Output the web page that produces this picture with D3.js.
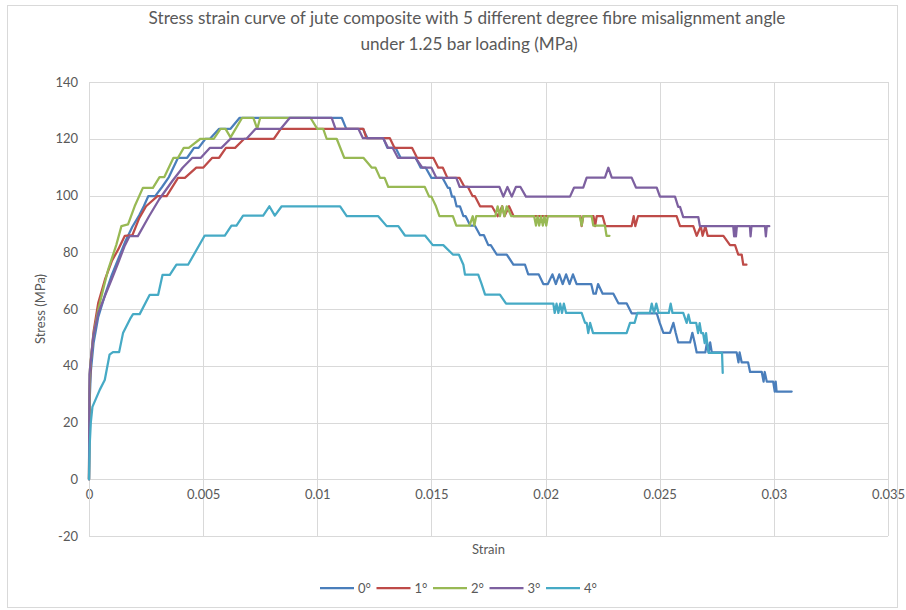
<!DOCTYPE html>
<html>
<head>
<meta charset="utf-8">
<script src="https://cdn.jsdelivr.net/npm/d3@7"></script>
<style>
  html, body { margin: 0; padding: 0; background: #fff; }
  svg { display: block; font-family: Lato, "Open Sans", sans-serif; }
</style>
</head>
<body>
<svg id="chart" width="906" height="610"></svg>
<script>
// ---------------- data ----------------
const titleLines = ["Stress strain curve of jute composite with 5 different degree fibre misalignment angle",
                    "under 1.25 bar loading (MPa)"];
const xAxisTitle = "Strain";
const yAxisTitle = "Stress (MPa)";
const seriesNames = ["0°", "1°", "2°", "3°", "4°"];
const seriesColors = ["#4a7ebb", "#be4b48", "#98b954", "#7d60a0", "#46aac5"];
const xTicks = [0, 0.005, 0.01, 0.015, 0.02, 0.025, 0.03, 0.035];
const yTicks = [-20, 0, 20, 40, 60, 80, 100, 120, 140];

// [strain, stress (MPa)]
const deg0 = [[0,0],[0.00003,28],[0.00008,38],[0.0002,48],[0.0004,57],[0.0007,65],[0.001,72],[0.0013,78],[0.0016,84],[0.0019,89],[0.0022,93],[0.0024,96.2],[0.0026,99.8],[0.0029,99.8],[0.0032,103],[0.0035,106.5],[0.0039,113.3],[0.0043,113.3],[0.0046,116.8],[0.0048,116.8],[0.0051,120],[0.0053,120],[0.0057,123.5],[0.0062,123.5],[0.0066,127.4],[0.01107,127.4],[0.01127,123.5],[0.012,123.5],[0.0122,120.2],[0.01289,120.2],[0.01307,116.8],[0.01343,116.8],[0.01365,113.3],[0.01431,113.3],[0.01453,109.8],[0.01475,109.8],[0.015,106.2],[0.01549,106.2],[0.01572,102.7],[0.0158,102.7],[0.0159,99.6],[0.016,99.6],[0.0161,96.2],[0.01625,96.2],[0.0164,92.7],[0.0165,92.7],[0.0167,89.4],[0.0169,89.4],[0.01713,86],[0.0173,86],[0.01749,82.5],[0.0176,82.5],[0.01786,79.2],[0.0183,79.2],[0.01859,75.6],[0.0191,75.6],[0.01924,72.2],[0.0197,72.2],[0.0199,68.8],[0.0201,68.8],[0.0203,72.2],[0.02045,68.8],[0.0206,72.2],[0.02075,68.8],[0.0209,72.2],[0.02105,68.8],[0.0212,72.2],[0.02136,68.8],[0.022,68.8],[0.0221,65.4],[0.0222,65.4],[0.0223,68.8],[0.0225,65.4],[0.02297,65.4],[0.02319,62],[0.02355,62],[0.02377,58.5],[0.02487,58.5],[0.025,55.1],[0.02516,51.6],[0.02545,51.6],[0.0256,55.1],[0.0257,51.6],[0.02581,48.2],[0.02633,48.2],[0.02643,51.6],[0.02653,48.2],[0.02662,44.7],[0.027,44.7],[0.02707,48.2],[0.02714,44.7],[0.02721,48.2],[0.02728,44.7],[0.02837,44.7],[0.02845,41.2],[0.0285,44.7],[0.02859,41.2],[0.02887,41.2],[0.02896,37.8],[0.02947,37.8],[0.02955,34.4],[0.0296,37.8],[0.02969,34.4],[0.02997,34.4],[0.03004,30.9],[0.03008,34.4],[0.03012,30.9],[0.03078,30.9]];
const deg1 = [[0,0],[0.00002,30],[0.00008,42],[0.0002,52],[0.0004,62],[0.0007,70.4],[0.001,76.9],[0.00128,81],[0.00157,85.8],[0.0019,86],[0.0022,92],[0.0025,96.2],[0.003,99.8],[0.0034,99.8],[0.0039,106.2],[0.0042,106.2],[0.0047,109.8],[0.005,109.8],[0.0054,113.3],[0.0057,113.3],[0.006,116.8],[0.0064,116.8],[0.0068,120],[0.0081,120],[0.0084,123.5],[0.01202,123.5],[0.01215,120.2],[0.01318,120.2],[0.01338,116.8],[0.01415,116.8],[0.01437,113.3],[0.01508,113.3],[0.0153,109.8],[0.0155,109.8],[0.0157,106.2],[0.01623,106.2],[0.01645,103],[0.0166,103],[0.0168,99.8],[0.0169,99.8],[0.01713,96.2],[0.01765,96.2],[0.0179,92.7],[0.0181,96.2],[0.0182,92.7],[0.0184,96.2],[0.0186,92.7],[0.02153,92.7],[0.02158,89.2],[0.02165,92.7],[0.0221,92.7],[0.02217,89.2],[0.02224,92.7],[0.0225,92.7],[0.02262,89.2],[0.02377,89.2],[0.02386,92.7],[0.02393,89.2],[0.02405,92.7],[0.02574,92.7],[0.02589,89.2],[0.02647,89.2],[0.02662,85.8],[0.0268,89.2],[0.02688,85.8],[0.027,89.2],[0.0271,85.8],[0.02779,85.8],[0.02808,82.5],[0.0283,82.5],[0.02844,79.2],[0.02859,79.2],[0.02866,75.6],[0.0288,75.6]];
const deg2 = [[0,0],[0.00002,30],[0.00004,38.7],[0.00019,50.5],[0.00041,59.9],[0.00062,66.9],[0.00084,73.9],[0.0012,82.7],[0.00142,89.2],[0.00171,89.8],[0.002,96.2],[0.00236,102.7],[0.0028,102.7],[0.00309,106.5],[0.0033,106.5],[0.0037,113.3],[0.0039,113.3],[0.00415,116.8],[0.00437,116.8],[0.00488,120],[0.00547,120],[0.00576,123.5],[0.00598,123.5],[0.0062,120.5],[0.00671,127.4],[0.0072,127.4],[0.00737,123.5],[0.0075,127.4],[0.0097,127.4],[0.01,123.5],[0.01026,123.5],[0.01041,120],[0.01085,120],[0.01118,113.3],[0.01202,113.3],[0.01239,109.8],[0.01255,109.8],[0.01275,106.2],[0.01295,106.2],[0.01311,103],[0.01471,103],[0.0149,99.6],[0.015,99.6],[0.0152,96.2],[0.01535,92.7],[0.01594,92.7],[0.01609,89.4],[0.01667,89.4],[0.01681,92.7],[0.01688,89.4],[0.01696,92.7],[0.0178,92.7],[0.0179,96.2],[0.018,92.7],[0.0181,96.2],[0.0182,92.7],[0.0183,96.2],[0.0185,92.7],[0.0195,92.7],[0.01958,89.4],[0.01965,92.7],[0.01972,89.4],[0.0198,92.7],[0.01988,89.4],[0.01995,92.7],[0.02003,89.4],[0.0201,92.7],[0.0215,92.7],[0.02158,89.4],[0.02165,92.7],[0.02202,92.7],[0.02209,89.4],[0.0226,89.4],[0.02267,85.8],[0.0228,85.8]];
const deg3 = [[0,0],[0.00001,20],[0.00002,37],[0.00019,50.5],[0.00041,58.7],[0.0007,64.6],[0.00099,70.4],[0.00128,76.3],[0.00155,82],[0.00178,85.7],[0.00214,85.7],[0.00263,92.7],[0.00307,98.6],[0.00365,105.1],[0.0041,109.8],[0.00453,113.3],[0.0049,113.3],[0.0053,116.8],[0.0058,116.8],[0.0062,120],[0.0069,120],[0.0073,123.5],[0.0084,123.5],[0.0088,127.4],[0.01063,127.4],[0.0108,123.5],[0.0118,123.5],[0.012,120.2],[0.01289,120.2],[0.0131,116.8],[0.0133,116.8],[0.01353,113.3],[0.0143,113.3],[0.0146,109.8],[0.015,109.8],[0.01522,106.2],[0.01609,106.2],[0.01624,103],[0.01798,103],[0.01815,99.6],[0.01833,103],[0.01852,99.6],[0.0187,103],[0.0189,103],[0.01914,99.6],[0.02107,99.6],[0.02125,102.8],[0.02165,102.8],[0.0218,106.3],[0.0226,106.3],[0.02275,109.8],[0.0229,106.3],[0.02377,106.3],[0.02396,102.8],[0.02487,102.8],[0.02501,99.6],[0.02567,99.6],[0.02581,96],[0.02589,96],[0.02603,92.4],[0.02669,92.4],[0.02676,89.2],[0.02822,89.2],[0.02826,85.6],[0.0283,89.2],[0.02834,85.6],[0.02838,89.2],[0.02895,89.2],[0.02898,85.6],[0.02902,89.2],[0.02961,89.2],[0.02965,85.6],[0.02969,89.2],[0.0298,89.2]];
const deg4 = [[0,0],[0.00003,12],[0.00008,20],[0.00015,25.5],[0.00047,31.5],[0.00069,35],[0.0009,43.9],[0.00105,44.8],[0.00132,44.8],[0.00149,51.5],[0.0018,56.5],[0.00193,58.2],[0.00222,58.2],[0.00266,65],[0.00303,65],[0.00322,72],[0.00354,72],[0.00383,75.6],[0.00434,75.6],[0.00507,85.9],[0.00595,85.9],[0.00624,89.4],[0.00646,89.4],[0.00675,92.9],[0.00763,92.9],[0.0079,96.2],[0.00814,92.9],[0.00844,96.2],[0.011,96.2],[0.01129,92.7],[0.01267,92.7],[0.01304,89.2],[0.01355,89.2],[0.01384,85.9],[0.01472,85.9],[0.01506,82.5],[0.01552,82.5],[0.01594,79.2],[0.0162,79.2],[0.0164,75.6],[0.01647,72.1],[0.01705,72.1],[0.0172,68.8],[0.01735,65.1],[0.018,65.1],[0.01827,61.9],[0.02034,61.9],[0.0204,58.6],[0.02048,61.9],[0.02056,58.6],[0.02064,61.9],[0.02072,58.6],[0.0208,61.9],[0.0209,58.6],[0.02158,58.6],[0.02173,55.1],[0.0218,55.1],[0.02187,51.5],[0.02195,55.1],[0.02208,51.5],[0.02355,51.5],[0.0237,55.1],[0.0239,55.1],[0.02402,58.6],[0.02457,58.6],[0.02465,61.9],[0.02475,58.6],[0.02485,61.9],[0.02495,58.6],[0.0254,58.6],[0.02548,61.9],[0.02556,58.6],[0.02603,58.6],[0.02618,55.1],[0.02626,58],[0.02634,55.1],[0.0266,55.1],[0.02668,51.5],[0.02675,55],[0.02682,51.5],[0.0269,51.5],[0.02697,48],[0.02703,51.5],[0.02708,48],[0.02715,44.5],[0.02773,44.5],[0.02776,37.5]];
const allSeries = [deg0, deg1, deg2, deg3, deg4];

// ---------------- layout ----------------
const svg = d3.select("#chart");
const plot = { left: 89, right: 888, top: 82, bottom: 536 };
const textColor = "#595959";
const gridColor = "#d9d9d9";

const x = d3.scaleLinear().domain([0, 0.035]).range([plot.left, plot.right]);
const y = d3.scaleLinear().domain([-20, 140]).range([plot.bottom, plot.top]);

// chart border
svg.append("rect").attr("x", 7.5).attr("y", 5.5).attr("width", 890).attr("height", 602)
  .attr("fill", "#fff").attr("stroke", gridColor).attr("stroke-width", 1);

// gridlines
const yGrid = svg.append("g").attr("transform", `translate(${plot.left},0)`)
  .call(d3.axisLeft(y).tickValues(yTicks).tickSize(-(plot.right - plot.left)).tickFormat(""));
yGrid.select(".domain").remove();
yGrid.selectAll("line").attr("stroke", gridColor).attr("shape-rendering", "crispEdges");

const xGrid = svg.append("g").attr("transform", `translate(0,${plot.bottom})`)
  .call(d3.axisBottom(x).tickValues(xTicks).tickSize(-(plot.bottom - plot.top)).tickFormat(""));
xGrid.select(".domain").remove();
xGrid.selectAll("line").attr("stroke", gridColor).attr("shape-rendering", "crispEdges");

// y tick labels
const yAxis = svg.append("g").attr("transform", `translate(${plot.left},0)`)
  .call(d3.axisLeft(y).tickValues(yTicks).tickSize(0).tickPadding(11).tickFormat(d => String(d)));
yAxis.select(".domain").remove();
yAxis.selectAll("text").attr("fill", textColor).style("font-size", "13px").style("font-family", "Lato, sans-serif");

// x axis at stress = 0
const xAxis = svg.append("g").attr("transform", `translate(0,${y(0)})`)
  .call(d3.axisBottom(x).tickValues(xTicks).tickSize(0).tickPadding(11).tickFormat(d => String(d)));
xAxis.select(".domain").attr("stroke", gridColor).attr("shape-rendering", "crispEdges");
xAxis.selectAll("text").attr("fill", textColor).style("font-size", "13px").style("font-family", "Lato, sans-serif");

// vertical axis line
svg.append("line").attr("x1", plot.left).attr("x2", plot.left).attr("y1", plot.top).attr("y2", plot.bottom)
  .attr("stroke", gridColor).attr("shape-rendering", "crispEdges");

// series lines
const line = d3.line().x(d => x(d[0])).y(d => y(d[1]));
svg.append("g").selectAll("path").data(allSeries).join("path")
  .attr("d", line)
  .attr("fill", "none")
  .attr("stroke", (d, i) => seriesColors[i])
  .attr("stroke-width", 2.25)
  .attr("stroke-linejoin", "round")
  .attr("stroke-linecap", "round");

// title
function fitWidth(sel, target, base) {
  const w = sel.node().getComputedTextLength();
  if (w > 0) sel.style("font-size", (base * target / w).toFixed(2) + "px");
}
const t1 = svg.append("text").attr("x", 467).attr("y", 24).attr("text-anchor", "middle")
  .attr("fill", textColor).style("font-size", "16px").text(titleLines[0]);
fitWidth(t1, 637, 16);
const t2 = svg.append("text").attr("x", 469).attr("y", 50).attr("text-anchor", "middle")
  .attr("fill", textColor).style("font-size", t1.style("font-size")).text(titleLines[1]);

// axis titles
svg.append("text").attr("transform", `translate(45,${(plot.top + plot.bottom) / 2}) rotate(-90)`)
  .attr("text-anchor", "middle").attr("fill", textColor).style("font-size", "13px").text(yAxisTitle);
svg.append("text").attr("x", (plot.left + plot.right) / 2).attr("y", 554)
  .attr("text-anchor", "middle").attr("fill", textColor).style("font-size", "13px").text(xAxisTitle);

// legend
const legend = svg.append("g").attr("transform", "translate(320,588)");
const items = legend.selectAll("g").data(seriesNames).join("g")
  .attr("transform", (d, i) => `translate(${i * 56.5},0)`);
items.append("line").attr("x1", 0).attr("x2", 34).attr("y1", 0).attr("y2", 0)
  .attr("stroke", (d, i) => seriesColors[i]).attr("stroke-width", 2.25);
items.append("text").attr("x", 38).attr("y", 4.5).attr("fill", textColor)
  .style("font-size", "13px").text(d => d);
</script>
</body>
</html>
